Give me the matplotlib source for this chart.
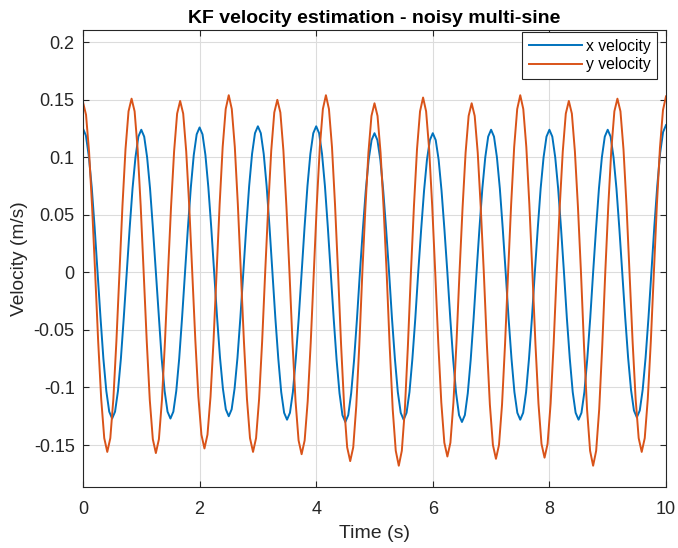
import numpy as np
import matplotlib
matplotlib.use("Agg")
import matplotlib.pyplot as plt

# --- data (values at the centre of the noisy band) ---
# x velocity: sampled every 0.05 s from 0 to 10 s
x_vel = [
    0.125, 0.119, 0.101, 0.074, 0.039, 0.0, -0.039, -0.075, -0.103, -0.121,
    -0.127, -0.121, -0.103, -0.075, -0.039, 0.0, 0.038, 0.073, 0.100, 0.118,
    0.124, 0.118, 0.100, 0.073, 0.038, 0.0, -0.039, -0.075, -0.103, -0.121,
    -0.127, -0.121, -0.103, -0.075, -0.039, 0.0, 0.039, 0.074, 0.102, 0.120,
    0.126, 0.120, 0.102, 0.074, 0.039, 0.0, -0.039, -0.074, -0.101, -0.119,
    -0.125, -0.119, -0.101, -0.074, -0.039, 0.0, 0.039, 0.075, 0.103, 0.121,
    0.127, 0.121, 0.103, 0.075, 0.039, 0.0, -0.040, -0.075, -0.104, -0.122,
    -0.128, -0.122, -0.104, -0.075, -0.040, 0.0, 0.039, 0.075, 0.103, 0.121,
    0.127, 0.121, 0.103, 0.075, 0.039, 0.0, -0.040, -0.076, -0.105, -0.124,
    -0.130, -0.124, -0.105, -0.076, -0.040, 0.0, 0.037, 0.071, 0.098, 0.115,
    0.121, 0.115, 0.098, 0.071, 0.037, 0.0, -0.040, -0.075, -0.104, -0.122,
    -0.128, -0.122, -0.104, -0.075, -0.040, 0.0, 0.037, 0.071, 0.098, 0.115,
    0.121, 0.115, 0.098, 0.071, 0.037, 0.0, -0.040, -0.076, -0.105, -0.124,
    -0.130, -0.124, -0.105, -0.076, -0.040, 0.0, 0.038, 0.073, 0.100, 0.118,
    0.124, 0.118, 0.100, 0.073, 0.038, 0.0, -0.040, -0.075, -0.104, -0.122,
    -0.128, -0.122, -0.104, -0.075, -0.040, 0.0, 0.038, 0.073, 0.100, 0.118,
    0.124, 0.118, 0.100, 0.073, 0.038, 0.0, -0.040, -0.075, -0.104, -0.122,
    -0.128, -0.122, -0.104, -0.075, -0.040, 0.0, 0.038, 0.073, 0.100, 0.118,
    0.124, 0.118, 0.100, 0.073, 0.038, 0.0, -0.039, -0.074, -0.102, -0.120,
    -0.126, -0.120, -0.102, -0.074, -0.039, 0.0, 0.040, 0.075, 0.104, 0.122,
    0.128,
]
t_x = np.linspace(0, 10, len(x_vel))

# y velocity: 16 samples per cycle, 12 cycles over 10 s
y_vel = [
    0.148, 0.137, 0.105, 0.057, 0.0, -0.060, -0.110, -0.144, -0.156, -0.144, -0.110, -0.060, 0.0, 0.058, 0.107, 0.140,
    0.151, 0.140, 0.107, 0.058, 0.0, -0.060, -0.111, -0.145, -0.157, -0.145, -0.111, -0.060, 0.0, 0.057, 0.105, 0.138,
    0.149, 0.138, 0.105, 0.057, 0.0, -0.059, -0.108, -0.141, -0.153, -0.141, -0.108, -0.059, 0.0, 0.059, 0.109, 0.142,
    0.154, 0.142, 0.109, 0.059, 0.0, -0.060, -0.110, -0.144, -0.156, -0.144, -0.110, -0.060, 0.0, 0.057, 0.106, 0.139,
    0.150, 0.139, 0.106, 0.057, 0.0, -0.061, -0.112, -0.146, -0.158, -0.146, -0.112, -0.061, 0.0, 0.059, 0.109, 0.142,
    0.154, 0.142, 0.109, 0.059, 0.0, -0.063, -0.116, -0.152, -0.164, -0.152, -0.116, -0.063, 0.0, 0.056, 0.104, 0.136,
    0.147, 0.136, 0.104, 0.056, 0.0, -0.064, -0.119, -0.155, -0.168, -0.155, -0.119, -0.064, 0.0, 0.058, 0.107, 0.140,
    0.152, 0.140, 0.107, 0.058, 0.0, -0.061, -0.113, -0.148, -0.160, -0.148, -0.113, -0.061, 0.0, 0.056, 0.104, 0.136,
    0.147, 0.136, 0.104, 0.056, 0.0, -0.062, -0.115, -0.150, -0.162, -0.150, -0.115, -0.062, 0.0, 0.059, 0.109, 0.142,
    0.154, 0.142, 0.109, 0.059, 0.0, -0.062, -0.114, -0.149, -0.161, -0.149, -0.114, -0.062, 0.0, 0.057, 0.105, 0.138,
    0.149, 0.138, 0.105, 0.057, 0.0, -0.064, -0.119, -0.155, -0.168, -0.155, -0.119, -0.064, 0.0, 0.058, 0.107, 0.140,
    0.151, 0.140, 0.107, 0.058, 0.0, -0.060, -0.110, -0.144, -0.156, -0.144, -0.110, -0.060, 0.0, 0.059, 0.108, 0.141,
    0.153,
]
t_y = np.linspace(0, 10, len(y_vel))

series_labels = ["x velocity", "y velocity"]
x_ticks = [0, 2, 4, 6, 8, 10]
y_ticks = [-0.15, -0.1, -0.05, 0, 0.05, 0.1, 0.15, 0.2]
y_tick_labels = ["-0.15", "-0.1", "-0.05", "0", "0.05", "0.1", "0.15", "0.2"]

# --- style (MATLAB look) ---
plt.rcParams["font.family"] = ["Liberation Sans", "DejaVu Sans"]
plt.rcParams["axes.unicode_minus"] = False
dark = "#262626"

fig = plt.figure(figsize=(6.78, 5.48), dpi=100)
ax = fig.add_axes([0.1224, 0.1113, 0.8599, 0.834])

ax.plot(t_x, x_vel, color="#0072BD", lw=1.4, label=series_labels[0])
ax.plot(t_y, y_vel, color="#D95319", lw=1.4, label=series_labels[1])

ax.set_xlim(0, 10)
ax.set_ylim(-0.1865, 0.2107)
ax.set_xticks(x_ticks)
ax.set_xticklabels([str(v) for v in x_ticks])
ax.set_yticks(y_ticks)
ax.set_yticklabels(y_tick_labels)

ax.grid(True, color="#dcdcdc", lw=0.8)
ax.set_axisbelow(True)
ax.tick_params(direction="in", top=True, right=True, length=4, width=0.8,
               colors=dark, labelsize=13)
ax.tick_params(axis="x", pad=10)
ax.tick_params(axis="y", pad=6)
for sp in ax.spines.values():
    sp.set_color(dark)
    sp.set_linewidth(0.8)

ax.set_xlabel("Time (s)", fontsize=14, color=dark, labelpad=5)
ax.set_ylabel("Velocity (m/s)", fontsize=13.8, color=dark)
ax.set_title("KF velocity estimation - noisy multi-sine", fontsize=14,
             fontweight="bold", color="black", pad=5)

leg = ax.legend(loc="upper right", bbox_to_anchor=(0.9846, 0.995),
                borderaxespad=0, fontsize=11.3, fancybox=False, framealpha=1,
                edgecolor=dark, handlelength=3.4, borderpad=0.4,
                labelspacing=0.25, handletextpad=0.25)
leg.get_frame().set_linewidth(0.8)

fig.savefig("out.png", dpi=100)
